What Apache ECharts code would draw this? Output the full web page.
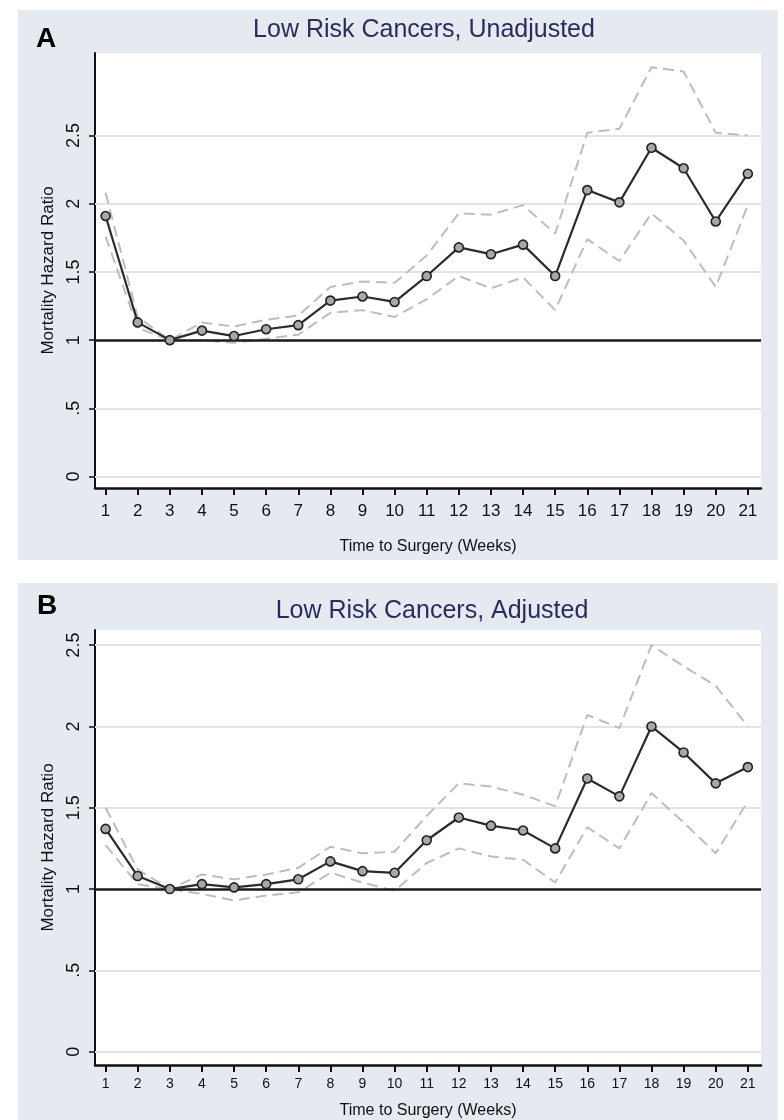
<!DOCTYPE html>
<html>
<head>
<meta charset="utf-8">
<script src="https://cdn.jsdelivr.net/npm/echarts@6/dist/echarts.min.js"></script>
<style>
html,body{margin:0;padding:0;background:#fff;}
#chart{width:784px;height:1120px;}
</style>
</head>
<body>
<div id="chart"></div>
<script>
// ---- data ----
const weeks = [1,2,3,4,5,6,7,8,9,10,11,12,13,14,15,16,17,18,19,20,21];

const hrA    = [1.91,1.13,1.00,1.07,1.03,1.08,1.11,1.29,1.32,1.28,1.47,1.68,1.63,1.70,1.47,2.10,2.01,2.41,2.26,1.87,2.22];
const upperA = [2.08,1.17,1.00,1.13,1.10,1.15,1.18,1.39,1.43,1.42,1.62,1.93,1.92,1.99,1.78,2.52,2.55,3.00,2.97,2.52,2.50];
const lowerA = [1.76,1.09,1.00,1.00,0.98,1.01,1.04,1.20,1.22,1.17,1.30,1.47,1.38,1.46,1.22,1.74,1.58,1.93,1.73,1.39,1.99];

const hrB    = [1.37,1.08,1.00,1.03,1.01,1.03,1.06,1.17,1.11,1.10,1.30,1.44,1.39,1.36,1.25,1.68,1.57,2.00,1.84,1.65,1.75];
const upperB = [1.50,1.12,1.00,1.09,1.06,1.09,1.13,1.26,1.22,1.23,1.45,1.65,1.63,1.58,1.51,2.07,1.99,2.50,2.37,2.25,2.00];
const lowerB = [1.27,1.03,1.00,0.97,0.93,0.96,0.98,1.10,1.04,0.99,1.16,1.25,1.20,1.18,1.04,1.38,1.25,1.59,1.41,1.22,1.54];

const yTicksA = [0,0.5,1,1.5,2,2.5];
const yTicksB = [0,0.5,1,1.5,2,2.5];
const refValue = 1;

const titleA = 'Low Risk Cancers, Unadjusted';
const titleB = 'Low Risk Cancers, Adjusted';
const xName = 'Time to Surgery (Weeks)';
const yName = 'Mortality Hazard Ratio';

// ---- helpers ----
const pairs = (arr) => weeks.map((w, i) => [w, arr[i]]);
const fmtY = (v) => {
  let s = String(Math.round(v * 10) / 10);
  if (s.startsWith('0.')) s = s.slice(1);
  return s;
};
const FONT = "'Liberation Sans',Arial,sans-serif";

function xAxisDef(gridIndex, labelSize) {
  return {
    type: 'value', gridIndex: gridIndex,
    min: 0.67, max: 21.41,
    name: xName, nameLocation: 'middle',
    nameGap: gridIndex === 0 ? 51 : 38,
    nameTextStyle: {fontFamily: FONT, fontSize: 16, color: '#111'},
    axisLine: {show: true, onZero: false, lineStyle: {color: '#111', width: 2.5}},
    axisTick: {show: true, customValues: weeks, length: 7, lineStyle: {color: '#111', width: 2}},
    axisLabel: {show: true, customValues: weeks, margin: gridIndex === 0 ? 15 : 12,
      fontFamily: FONT, fontSize: labelSize, color: '#111'},
    splitLine: {show: false}
  };
}
function yAxisDef(gridIndex, min, max, ticks) {
  return {
    type: 'value', gridIndex: gridIndex,
    min: min, max: max,
    name: yName, nameLocation: 'middle', nameGap: 38,
    nameTextStyle: {fontFamily: FONT, fontSize: 17, color: '#111'},
    axisLine: {show: true, onZero: false, lineStyle: {color: '#111', width: 2}},
    axisTick: {show: true, customValues: ticks, length: 6, lineStyle: {color: '#111', width: 1.5}},
    axisLabel: {show: true, customValues: ticks, rotate: 90, margin: 12,
      fontFamily: FONT, fontSize: 18, color: '#111', formatter: fmtY},
    splitLine: {show: false}
  };
}

function seriesSet(gridIndex, hr, up, lo, ticks) {
  const ciStyle = {color: '#bdbdbd', width: 2, type: [11, 6]};
  return [
    { // horizontal grid lines
      type: 'line', xAxisIndex: gridIndex, yAxisIndex: gridIndex, data: [], z: 1,
      markLine: {silent: true, z: 1, symbol: 'none', label: {show: false}, animation: false,
        lineStyle: {color: '#e4e4e4', width: 2, type: 'solid'},
        data: ticks.filter(t => t !== refValue).map(t => ({yAxis: t}))}
    },
    {
      type: 'line', xAxisIndex: gridIndex, yAxisIndex: gridIndex, data: pairs(up),
      showSymbol: false, symbol: 'none', lineStyle: ciStyle, z: 2, animation: false
    },
    {
      type: 'line', xAxisIndex: gridIndex, yAxisIndex: gridIndex, data: pairs(lo),
      showSymbol: false, symbol: 'none', lineStyle: ciStyle, z: 2, animation: false
    },
    {
      type: 'line', xAxisIndex: gridIndex, yAxisIndex: gridIndex, data: [], z: 3,
      markLine: {silent: true, z: 3, symbol: 'none', label: {show: false}, animation: false,
        lineStyle: {color: '#1a1a1a', width: 2.5, type: 'solid'},
        data: [{yAxis: refValue}]}
    },
    {
      type: 'line', xAxisIndex: gridIndex, yAxisIndex: gridIndex, data: pairs(hr),
      symbol: 'circle', symbolSize: 9, showSymbol: true, z: 6,
      lineStyle: {color: '#2b2b2b', width: 2.2},
      itemStyle: {color: '#a8a8a8', borderColor: '#222', borderWidth: 1.6},
      animation: false
    }
  ];
}

const chart = echarts.init(document.getElementById('chart'), null, {renderer: 'canvas'});
const panelColor = '#e4eaef';

chart.setOption({
  backgroundColor: '#ffffff',
  animation: false,
  graphic: [
    {type: 'rect', z: -10, shape: {x: 18, y: 10, width: 760, height: 550}, style: {fill: panelColor}},
    {type: 'rect', z: -10, shape: {x: 18, y: 583, width: 760, height: 537}, style: {fill: panelColor}},
    {type: 'text', z: 10, style: {text: 'A', x: 46, y: 39, textAlign: 'center', textVerticalAlign: 'middle',
      font: "bold 28px 'Liberation Sans', Arial, sans-serif", fill: '#000'}},
    {type: 'text', z: 10, style: {text: 'B', x: 47, y: 606, textAlign: 'center', textVerticalAlign: 'middle',
      font: "bold 28px 'Liberation Sans', Arial, sans-serif", fill: '#000'}},
    {type: 'text', z: 10, style: {text: titleA, x: 424, y: 30, textAlign: 'center', textVerticalAlign: 'middle',
      font: "25px 'Liberation Sans', Arial, sans-serif", fill: '#2c2c5c'}},
    {type: 'text', z: 10, style: {text: titleB, x: 432, y: 611, textAlign: 'center', textVerticalAlign: 'middle',
      font: "25px 'Liberation Sans', Arial, sans-serif", fill: '#2c2c5c'}}
  ],
  grid: [
    {left: 95, right: 23, top: 53, bottom: 632, show: true, backgroundColor: '#ffffff', borderWidth: 0, containLabel: false},
    {left: 95, right: 23, top: 630, bottom: 55, show: true, backgroundColor: '#ffffff', borderWidth: 0, containLabel: false}
  ],
  xAxis: [xAxisDef(0, 17), xAxisDef(1, 14)],
  yAxis: [yAxisDef(0, -0.084, 3.105, yTicksA), yAxisDef(1, -0.082, 2.593, yTicksB)],
  series: [].concat(
    seriesSet(0, hrA, upperA, lowerA, yTicksA),
    seriesSet(1, hrB, upperB, lowerB, yTicksB)
  )
});
</script>
</body>
</html>
